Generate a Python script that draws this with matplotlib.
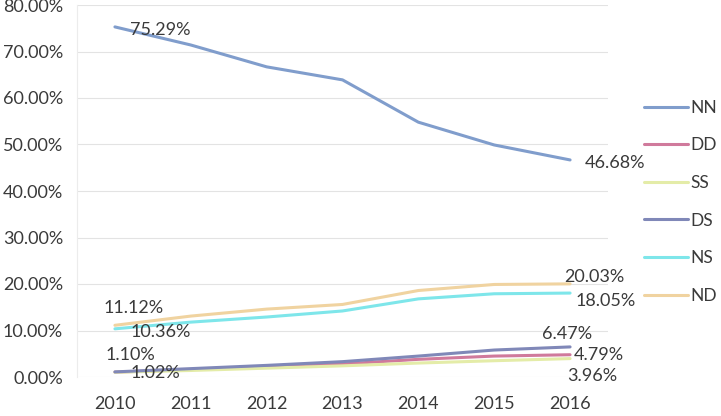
import matplotlib
matplotlib.use("Agg")
import matplotlib.pyplot as plt
from matplotlib.ticker import PercentFormatter

years = ["2010", "2011", "2012", "2013", "2014", "2015", "2016"]
series_names = ["NN", "DD", "SS", "DS", "NS", "ND"]
NN = [75.29, 71.4, 66.7, 63.9, 54.8, 49.9, 46.68]
DD = [1.05, 1.6, 2.2, 2.8, 3.8, 4.5, 4.79]
SS = [1.02, 1.4, 1.9, 2.4, 3.0, 3.5, 3.96]
DS = [1.10, 1.8, 2.5, 3.3, 4.5, 5.8, 6.47]
NS = [10.36, 11.8, 12.9, 14.2, 16.8, 17.9, 18.05]
ND = [11.12, 13.1, 14.6, 15.6, 18.6, 19.9, 20.03]
colors = ["#809dcc", "#d07a9c", "#e4eca8", "#8088b8", "#7ee6ea", "#f0d3a0"]

plt.rcParams['font.family'] = ['Lato', 'DejaVu Sans']
fig = plt.figure(figsize=(7.21, 4.16), dpi=100)
ax = fig.add_axes([77/721, 1 - 377/416, (608-77)/721, (377-5)/416])

data = [NN, DD, SS, DS, NS, ND]
x = list(range(len(years)))
lines = []
for name, vals, c in zip(series_names, data, colors):
    l, = ax.plot(x, vals, color=c, lw=2.2, label=name, solid_capstyle='round')
    lines.append(l)

ax.set_xlim(-0.5, len(years) - 0.5)
ax.set_ylim(0, 80)
ax.set_yticks(range(0, 81, 10))
ax.yaxis.set_major_formatter(PercentFormatter(decimals=2))
ax.set_xticks(x)
ax.set_xticklabels(years)
ax.grid(axis='y', color='#e3e3e3', lw=0.8)
ax.set_axisbelow(True)
for s in ['top', 'right', 'bottom']:
    ax.spines[s].set_visible(False)
ax.spines['left'].set_color('#ececec')
ax.tick_params(axis='both', length=0, labelsize=13, colors='#3a3a3a')
ax.tick_params(axis='y', pad=10)
ax.tick_params(axis='x', pad=14)

labels = [
    (NN, 0, "75.29%", (15, -3), 'left'),
    (NN, 6, "46.68%", (15, -3), 'left'),
    (ND, 6, "20.03%", (-6, 7), 'left'),
    (NS, 6, "18.05%", (5, -8), 'left'),
    (DS, 6, "6.47%", (-28, 13), 'left'),
    (DD, 6, "4.79%", (4, 0), 'left'),
    (SS, 6, "3.96%", (-3, -17), 'left'),
    (ND, 0, "11.12%", (-11, 17), 'left'),
    (NS, 0, "10.36%", (16, -3), 'left'),
    (DS, 0, "1.10%", (-9, 17), 'left'),
    (SS, 0, "1.02%", (16, -1), 'left'),
]
for vals, i, txt, off, ha in labels:
    ax.annotate(txt, (i, vals[i]), xytext=off, textcoords='offset pixels',
                ha=ha, va='center', fontsize=13, color='#3a3a3a')

leg = fig.legend(handles=lines, loc='upper left', bbox_to_anchor=(637/721, 1 - 93/416),
                 frameon=False, fontsize=12.5, handlelength=2.55, handletextpad=0.15,
                 labelspacing=1.24, borderaxespad=0)
for t in leg.get_texts():
    t.set_color('#3a3a3a')

fig.savefig("out.png", dpi=100)
